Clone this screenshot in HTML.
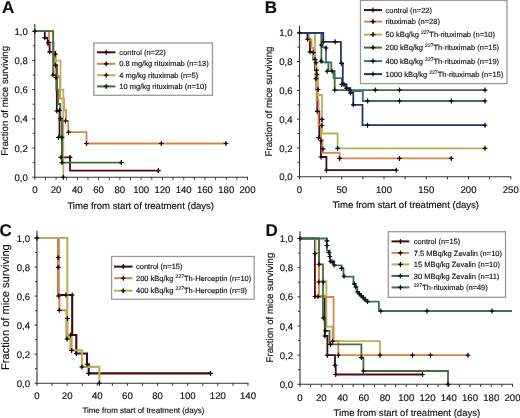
<!DOCTYPE html>
<html><head><meta charset="utf-8"><style>
html,body{margin:0;padding:0;background:#fff;}
body{width:520px;height:418px;overflow:hidden;}
svg{display:block;font-family:"Liberation Sans", sans-serif;will-change:transform;filter:blur(0.3px);}
text{fill:#111;stroke:#111;stroke-width:0.15px;text-rendering:geometricPrecision;}
</style></head><body>
<svg width="520" height="418" viewBox="0 0 520 418">
<rect width="520" height="418" fill="#fff"/>
<line x1="34.8" y1="23.90" x2="34.8" y2="177.80" stroke="#333333" stroke-width="1.1"/>
<line x1="34.20" y1="177.2" x2="248.00" y2="177.2" stroke="#333333" stroke-width="1.1"/>
<line x1="32.30" y1="177.20" x2="34.8" y2="177.20" stroke="#333333" stroke-width="1"/>
<text x="27.80" y="180.80" text-anchor="end" font-size="9.6">0,0</text>
<line x1="32.80" y1="162.60" x2="34.8" y2="162.60" stroke="#333333" stroke-width="1"/>
<line x1="32.30" y1="148.00" x2="34.8" y2="148.00" stroke="#333333" stroke-width="1"/>
<text x="27.80" y="151.60" text-anchor="end" font-size="9.6">0,2</text>
<line x1="32.80" y1="133.40" x2="34.8" y2="133.40" stroke="#333333" stroke-width="1"/>
<line x1="32.30" y1="118.80" x2="34.8" y2="118.80" stroke="#333333" stroke-width="1"/>
<text x="27.80" y="122.40" text-anchor="end" font-size="9.6">0,4</text>
<line x1="32.80" y1="104.20" x2="34.8" y2="104.20" stroke="#333333" stroke-width="1"/>
<line x1="32.30" y1="89.60" x2="34.8" y2="89.60" stroke="#333333" stroke-width="1"/>
<text x="27.80" y="93.20" text-anchor="end" font-size="9.6">0,6</text>
<line x1="32.80" y1="75.00" x2="34.8" y2="75.00" stroke="#333333" stroke-width="1"/>
<line x1="32.30" y1="60.40" x2="34.8" y2="60.40" stroke="#333333" stroke-width="1"/>
<text x="27.80" y="64.00" text-anchor="end" font-size="9.6">0,8</text>
<line x1="32.80" y1="45.80" x2="34.8" y2="45.80" stroke="#333333" stroke-width="1"/>
<line x1="32.30" y1="31.20" x2="34.8" y2="31.20" stroke="#333333" stroke-width="1"/>
<text x="27.80" y="34.80" text-anchor="end" font-size="9.6">1,0</text>
<line x1="34.80" y1="177.2" x2="34.80" y2="179.80" stroke="#333333" stroke-width="1"/>
<text x="34.80" y="193.40" text-anchor="middle" font-size="9.6">0</text>
<line x1="45.43" y1="177.2" x2="45.43" y2="179.80" stroke="#333333" stroke-width="1"/>
<line x1="56.07" y1="177.2" x2="56.07" y2="179.80" stroke="#333333" stroke-width="1"/>
<text x="56.07" y="193.40" text-anchor="middle" font-size="9.6">20</text>
<line x1="66.70" y1="177.2" x2="66.70" y2="179.80" stroke="#333333" stroke-width="1"/>
<line x1="77.34" y1="177.2" x2="77.34" y2="179.80" stroke="#333333" stroke-width="1"/>
<text x="77.34" y="193.40" text-anchor="middle" font-size="9.6">40</text>
<line x1="87.97" y1="177.2" x2="87.97" y2="179.80" stroke="#333333" stroke-width="1"/>
<line x1="98.61" y1="177.2" x2="98.61" y2="179.80" stroke="#333333" stroke-width="1"/>
<text x="98.61" y="193.40" text-anchor="middle" font-size="9.6">60</text>
<line x1="109.24" y1="177.2" x2="109.24" y2="179.80" stroke="#333333" stroke-width="1"/>
<line x1="119.88" y1="177.2" x2="119.88" y2="179.80" stroke="#333333" stroke-width="1"/>
<text x="119.88" y="193.40" text-anchor="middle" font-size="9.6">80</text>
<line x1="130.51" y1="177.2" x2="130.51" y2="179.80" stroke="#333333" stroke-width="1"/>
<line x1="141.15" y1="177.2" x2="141.15" y2="179.80" stroke="#333333" stroke-width="1"/>
<text x="141.15" y="193.40" text-anchor="middle" font-size="9.6">100</text>
<line x1="151.78" y1="177.2" x2="151.78" y2="179.80" stroke="#333333" stroke-width="1"/>
<line x1="162.42" y1="177.2" x2="162.42" y2="179.80" stroke="#333333" stroke-width="1"/>
<text x="162.42" y="193.40" text-anchor="middle" font-size="9.6">120</text>
<line x1="173.06" y1="177.2" x2="173.06" y2="179.80" stroke="#333333" stroke-width="1"/>
<line x1="183.69" y1="177.2" x2="183.69" y2="179.80" stroke="#333333" stroke-width="1"/>
<text x="183.69" y="193.40" text-anchor="middle" font-size="9.6">140</text>
<line x1="194.32" y1="177.2" x2="194.32" y2="179.80" stroke="#333333" stroke-width="1"/>
<line x1="204.96" y1="177.2" x2="204.96" y2="179.80" stroke="#333333" stroke-width="1"/>
<text x="204.96" y="193.40" text-anchor="middle" font-size="9.6">160</text>
<line x1="215.59" y1="177.2" x2="215.59" y2="179.80" stroke="#333333" stroke-width="1"/>
<line x1="226.23" y1="177.2" x2="226.23" y2="179.80" stroke="#333333" stroke-width="1"/>
<text x="226.23" y="193.40" text-anchor="middle" font-size="9.6">180</text>
<line x1="236.86" y1="177.2" x2="236.86" y2="179.80" stroke="#333333" stroke-width="1"/>
<line x1="247.50" y1="177.2" x2="247.50" y2="179.80" stroke="#333333" stroke-width="1"/>
<text x="247.50" y="193.40" text-anchor="middle" font-size="9.6">200</text>
<text x="2" y="12.6" font-size="17" font-weight="bold">A</text>
<text x="67.4" y="209" font-size="9.55">Time from start of treatment (days)</text>
<text transform="translate(8.0,100.8) rotate(-90)" text-anchor="middle" font-size="9.7">Fraction of mice surviving</text>
<path d="M34.80,31.20H44.80V37.80H47.70V44.50H49.60V51.80H55.30V65.00H56.80V111.00H59.50V137.40H62.00V157.30H70.00V170.60H158.30" fill="none" stroke="#4c0812" stroke-width="1.8" stroke-linejoin="miter" stroke-linecap="butt"/>
<path d="M34.80,31.20H49.00V42.40H53.50V53.70H55.50V76.20H60.00V98.60H64.00V109.80H66.00V121.00H68.30V132.20H86.50V143.50H226.00" fill="none" stroke="#d88646" stroke-width="1.8" stroke-linejoin="miter" stroke-linecap="butt"/>
<path d="M34.80,31.20H53.00V60.60H60.50V89.60H63.30V177.20" fill="none" stroke="#b4b25a" stroke-width="1.8" stroke-linejoin="miter" stroke-linecap="butt"/>
<path d="M34.80,31.20H53.20V75.20H56.30V89.60H58.00V104.00H60.30V118.50H62.00V162.60H121.30" fill="none" stroke="#446c3f" stroke-width="1.8" stroke-linejoin="miter" stroke-linecap="butt"/>
<path d="M42.40,37.80H47.20M44.80,35.30V40.30" stroke="#111" stroke-width="1.15" fill="none"/><path d="M43.30,37.80L44.80,36.30L46.30,37.80L44.80,39.30Z" fill="#111"/>
<path d="M46.10,42.60H50.90M48.50,40.10V45.10" stroke="#111" stroke-width="1.15" fill="none"/><path d="M47.00,42.60L48.50,41.10L50.00,42.60L48.50,44.10Z" fill="#111"/>
<path d="M47.20,51.80H52.00M49.60,49.30V54.30" stroke="#111" stroke-width="1.15" fill="none"/><path d="M48.10,51.80L49.60,50.30L51.10,51.80L49.60,53.30Z" fill="#111"/>
<path d="M53.00,54.20H57.80M55.40,51.70V56.70" stroke="#111" stroke-width="1.15" fill="none"/><path d="M53.90,54.20L55.40,52.70L56.90,54.20L55.40,55.70Z" fill="#111"/>
<path d="M53.10,65.20H57.90M55.50,62.70V67.70" stroke="#111" stroke-width="1.15" fill="none"/><path d="M54.00,65.20L55.50,63.70L57.00,65.20L55.50,66.70Z" fill="#111"/>
<path d="M50.60,75.00H55.40M53.00,72.50V77.50" stroke="#111" stroke-width="1.15" fill="none"/><path d="M51.50,75.00L53.00,73.50L54.50,75.00L53.00,76.50Z" fill="#111"/>
<path d="M53.60,77.50H58.40M56.00,75.00V80.00" stroke="#111" stroke-width="1.15" fill="none"/><path d="M54.50,77.50L56.00,76.00L57.50,77.50L56.00,79.00Z" fill="#111"/>
<path d="M54.40,111.00H59.20M56.80,108.50V113.50" stroke="#111" stroke-width="1.15" fill="none"/><path d="M55.30,111.00L56.80,109.50L58.30,111.00L56.80,112.50Z" fill="#111"/>
<path d="M57.10,110.30H61.90M59.50,107.80V112.80" stroke="#111" stroke-width="1.15" fill="none"/><path d="M58.00,110.30L59.50,108.80L61.00,110.30L59.50,111.80Z" fill="#111"/>
<path d="M56.10,137.40H60.90M58.50,134.90V139.90" stroke="#111" stroke-width="1.15" fill="none"/><path d="M57.00,137.40L58.50,135.90L60.00,137.40L58.50,138.90Z" fill="#111"/>
<path d="M59.60,137.40H64.40M62.00,134.90V139.90" stroke="#111" stroke-width="1.15" fill="none"/><path d="M60.50,137.40L62.00,135.90L63.50,137.40L62.00,138.90Z" fill="#111"/>
<path d="M58.60,157.30H63.40M61.00,154.80V159.80" stroke="#111" stroke-width="1.15" fill="none"/><path d="M59.50,157.30L61.00,155.80L62.50,157.30L61.00,158.80Z" fill="#111"/>
<path d="M67.60,157.30H72.40M70.00,154.80V159.80" stroke="#111" stroke-width="1.15" fill="none"/><path d="M68.50,157.30L70.00,155.80L71.50,157.30L70.00,158.80Z" fill="#111"/>
<path d="M155.90,170.60H160.70M158.30,168.10V173.10" stroke="#111" stroke-width="1.15" fill="none"/><path d="M156.80,170.60L158.30,169.10L159.80,170.60L158.30,172.10Z" fill="#111"/>
<path d="M63.10,121.00H67.90M65.50,118.50V123.50" stroke="#111" stroke-width="1.15" fill="none"/><path d="M64.00,121.00L65.50,119.50L67.00,121.00L65.50,122.50Z" fill="#111"/>
<path d="M66.10,132.20H70.90M68.50,129.70V134.70" stroke="#111" stroke-width="1.15" fill="none"/><path d="M67.00,132.20L68.50,130.70L70.00,132.20L68.50,133.70Z" fill="#111"/>
<path d="M84.10,143.50H88.90M86.50,141.00V146.00" stroke="#111" stroke-width="1.15" fill="none"/><path d="M85.00,143.50L86.50,142.00L88.00,143.50L86.50,145.00Z" fill="#111"/>
<path d="M158.90,143.50H163.70M161.30,141.00V146.00" stroke="#111" stroke-width="1.15" fill="none"/><path d="M159.80,143.50L161.30,142.00L162.80,143.50L161.30,145.00Z" fill="#111"/>
<path d="M223.60,143.50H228.40M226.00,141.00V146.00" stroke="#111" stroke-width="1.15" fill="none"/><path d="M224.50,143.50L226.00,142.00L227.50,143.50L226.00,145.00Z" fill="#111"/>
<path d="M58.10,118.50H62.90M60.50,116.00V121.00" stroke="#111" stroke-width="1.15" fill="none"/><path d="M59.00,118.50L60.50,117.00L62.00,118.50L60.50,120.00Z" fill="#111"/>
<path d="M59.60,162.60H64.40M62.00,160.10V165.10" stroke="#111" stroke-width="1.15" fill="none"/><path d="M60.50,162.60L62.00,161.10L63.50,162.60L62.00,164.10Z" fill="#111"/>
<path d="M118.90,162.60H123.70M121.30,160.10V165.10" stroke="#111" stroke-width="1.15" fill="none"/><path d="M119.80,162.60L121.30,161.10L122.80,162.60L121.30,164.10Z" fill="#111"/>
<path d="M60.90,177.20H65.70M63.30,174.70V179.70" stroke="#111" stroke-width="1.15" fill="none"/><path d="M61.80,177.20L63.30,175.70L64.80,177.20L63.30,178.70Z" fill="#111"/>
<path d="M32.40,31.20H37.20M34.80,28.70V33.70" stroke="#111" stroke-width="1.15" fill="none"/><path d="M33.30,31.20L34.80,29.70L36.30,31.20L34.80,32.70Z" fill="#111"/>
<rect x="93.9" y="43.0" width="118.6" height="52.3" fill="#fff" stroke="#999" stroke-width="1.3"/>
<line x1="97" y1="52.30" x2="115.4" y2="52.30" stroke="#4c0812" stroke-width="2"/>
<path d="M103.80,52.30H108.60M106.20,49.80V54.80" stroke="#111" stroke-width="1.15" fill="none"/><path d="M104.70,52.30L106.20,50.80L107.70,52.30L106.20,53.80Z" fill="#111"/>
<text x="119.3" y="54.9" font-size="7.5">control (n=22)</text>
<line x1="97" y1="63.80" x2="115.4" y2="63.80" stroke="#d88646" stroke-width="2"/>
<path d="M103.80,63.80H108.60M106.20,61.30V66.30" stroke="#111" stroke-width="1.15" fill="none"/><path d="M104.70,63.80L106.20,62.30L107.70,63.80L106.20,65.30Z" fill="#111"/>
<text x="119.3" y="66.4" font-size="7.5">0.8 mg/kg rituximab (n=13)</text>
<line x1="97" y1="75.20" x2="115.4" y2="75.20" stroke="#b4b25a" stroke-width="2"/>
<path d="M103.80,75.20H108.60M106.20,72.70V77.70" stroke="#111" stroke-width="1.15" fill="none"/><path d="M104.70,75.20L106.20,73.70L107.70,75.20L106.20,76.70Z" fill="#111"/>
<text x="119.3" y="77.8" font-size="7.5">4 mg/kg rituximab (n=5)</text>
<line x1="97" y1="86.40" x2="115.4" y2="86.40" stroke="#446c3f" stroke-width="2"/>
<path d="M103.80,86.40H108.60M106.20,83.90V88.90" stroke="#111" stroke-width="1.15" fill="none"/><path d="M104.70,86.40L106.20,84.90L107.70,86.40L106.20,87.90Z" fill="#111"/>
<text x="119.3" y="89.0" font-size="7.5">10 mg/kg rituximab (n=10)</text>
<line x1="299.5" y1="25.61" x2="299.5" y2="177.30" stroke="#333333" stroke-width="1.1"/>
<line x1="298.90" y1="176.7" x2="511.25" y2="176.7" stroke="#333333" stroke-width="1.1"/>
<line x1="297.00" y1="176.70" x2="299.5" y2="176.70" stroke="#333333" stroke-width="1"/>
<text x="292.50" y="180.30" text-anchor="end" font-size="9.6">0,0</text>
<line x1="297.50" y1="162.31" x2="299.5" y2="162.31" stroke="#333333" stroke-width="1"/>
<line x1="297.00" y1="147.92" x2="299.5" y2="147.92" stroke="#333333" stroke-width="1"/>
<text x="292.50" y="151.52" text-anchor="end" font-size="9.6">0,2</text>
<line x1="297.50" y1="133.53" x2="299.5" y2="133.53" stroke="#333333" stroke-width="1"/>
<line x1="297.00" y1="119.14" x2="299.5" y2="119.14" stroke="#333333" stroke-width="1"/>
<text x="292.50" y="122.74" text-anchor="end" font-size="9.6">0,4</text>
<line x1="297.50" y1="104.75" x2="299.5" y2="104.75" stroke="#333333" stroke-width="1"/>
<line x1="297.00" y1="90.36" x2="299.5" y2="90.36" stroke="#333333" stroke-width="1"/>
<text x="292.50" y="93.96" text-anchor="end" font-size="9.6">0,6</text>
<line x1="297.50" y1="75.97" x2="299.5" y2="75.97" stroke="#333333" stroke-width="1"/>
<line x1="297.00" y1="61.58" x2="299.5" y2="61.58" stroke="#333333" stroke-width="1"/>
<text x="292.50" y="65.18" text-anchor="end" font-size="9.6">0,8</text>
<line x1="297.50" y1="47.19" x2="299.5" y2="47.19" stroke="#333333" stroke-width="1"/>
<line x1="297.00" y1="32.80" x2="299.5" y2="32.80" stroke="#333333" stroke-width="1"/>
<text x="292.50" y="36.40" text-anchor="end" font-size="9.6">1,0</text>
<line x1="299.50" y1="176.7" x2="299.50" y2="179.30" stroke="#333333" stroke-width="1"/>
<text x="299.50" y="192.90" text-anchor="middle" font-size="9.6">0</text>
<line x1="320.62" y1="176.7" x2="320.62" y2="179.30" stroke="#333333" stroke-width="1"/>
<line x1="341.75" y1="176.7" x2="341.75" y2="179.30" stroke="#333333" stroke-width="1"/>
<text x="341.75" y="192.90" text-anchor="middle" font-size="9.6">50</text>
<line x1="362.88" y1="176.7" x2="362.88" y2="179.30" stroke="#333333" stroke-width="1"/>
<line x1="384.00" y1="176.7" x2="384.00" y2="179.30" stroke="#333333" stroke-width="1"/>
<text x="384.00" y="192.90" text-anchor="middle" font-size="9.6">100</text>
<line x1="405.12" y1="176.7" x2="405.12" y2="179.30" stroke="#333333" stroke-width="1"/>
<line x1="426.25" y1="176.7" x2="426.25" y2="179.30" stroke="#333333" stroke-width="1"/>
<text x="426.25" y="192.90" text-anchor="middle" font-size="9.6">150</text>
<line x1="447.38" y1="176.7" x2="447.38" y2="179.30" stroke="#333333" stroke-width="1"/>
<line x1="468.50" y1="176.7" x2="468.50" y2="179.30" stroke="#333333" stroke-width="1"/>
<text x="468.50" y="192.90" text-anchor="middle" font-size="9.6">200</text>
<line x1="489.62" y1="176.7" x2="489.62" y2="179.30" stroke="#333333" stroke-width="1"/>
<line x1="510.75" y1="176.7" x2="510.75" y2="179.30" stroke="#333333" stroke-width="1"/>
<text x="510.75" y="192.90" text-anchor="middle" font-size="9.6">250</text>
<text x="264.8" y="13.2" font-size="17" font-weight="bold">B</text>
<text x="332.4" y="208.3" font-size="9.55">Time from start of treatment (days)</text>
<text transform="translate(272.4,101.5) rotate(-90)" text-anchor="middle" font-size="9.7">Fraction of mice surviving</text>
<path d="M299.50,32.80H307.50V39.20H310.00V51.80H313.40V59.30H315.00V70.20H316.50V89.50H317.30V111.30H319.30V137.70H321.00V157.00H326.40V170.20H396.30" fill="none" stroke="#4c0812" stroke-width="1.8" stroke-linejoin="miter" stroke-linecap="butt"/>
<path d="M299.50,32.80H309.00V40.00H311.50V48.00H313.50V60.00H315.50V80.00H316.70V100.00H318.50V125.00H321.00V140.00H322.40V152.90H339.60V158.40H451.30" fill="none" stroke="#d88646" stroke-width="1.8" stroke-linejoin="miter" stroke-linecap="butt"/>
<path d="M299.50,32.80H315.00V61.60H316.50V76.00H318.00V95.00H322.00V133.50H337.60V148.30H485.00" fill="none" stroke="#b4b25a" stroke-width="1.8" stroke-linejoin="miter" stroke-linecap="butt"/>
<path d="M299.50,32.80H321.40V62.40H328.40V71.00H333.60V78.10H334.70V90.10H485.00" fill="none" stroke="#446c3f" stroke-width="1.8" stroke-linejoin="miter" stroke-linecap="butt"/>
<path d="M299.50,32.80H321.70V47.10H326.00V62.40H331.30V71.00H334.70V78.10H341.80V84.40H345.60V88.20H349.50V91.10H362.80V101.00H485.00" fill="none" stroke="#3e706a" stroke-width="1.8" stroke-linejoin="miter" stroke-linecap="butt"/>
<path d="M299.50,32.80H323.30V41.80H340.90V63.40H342.80V84.40H346.60V88.20H350.40V93.00H353.30V104.80H362.50V125.20H485.00" fill="none" stroke="#26336e" stroke-width="1.8" stroke-linejoin="miter" stroke-linecap="butt"/>
<path d="M297.10,32.80H301.90M299.50,30.30V35.30" stroke="#111" stroke-width="1.15" fill="none"/><path d="M298.00,32.80L299.50,31.30L301.00,32.80L299.50,34.30Z" fill="#111"/>
<path d="M305.10,39.20H309.90M307.50,36.70V41.70" stroke="#111" stroke-width="1.15" fill="none"/><path d="M306.00,39.20L307.50,37.70L309.00,39.20L307.50,40.70Z" fill="#111"/>
<path d="M307.60,51.80H312.40M310.00,49.30V54.30" stroke="#111" stroke-width="1.15" fill="none"/><path d="M308.50,51.80L310.00,50.30L311.50,51.80L310.00,53.30Z" fill="#111"/>
<path d="M311.00,52.60H315.80M313.40,50.10V55.10" stroke="#111" stroke-width="1.15" fill="none"/><path d="M311.90,52.60L313.40,51.10L314.90,52.60L313.40,54.10Z" fill="#111"/>
<path d="M312.60,59.30H317.40M315.00,56.80V61.80" stroke="#111" stroke-width="1.15" fill="none"/><path d="M313.50,59.30L315.00,57.80L316.50,59.30L315.00,60.80Z" fill="#111"/>
<path d="M313.60,62.70H318.40M316.00,60.20V65.20" stroke="#111" stroke-width="1.15" fill="none"/><path d="M314.50,62.70L316.00,61.20L317.50,62.70L316.00,64.20Z" fill="#111"/>
<path d="M314.10,70.20H318.90M316.50,67.70V72.70" stroke="#111" stroke-width="1.15" fill="none"/><path d="M315.00,70.20L316.50,68.70L318.00,70.20L316.50,71.70Z" fill="#111"/>
<path d="M314.60,74.40H319.40M317.00,71.90V76.90" stroke="#111" stroke-width="1.15" fill="none"/><path d="M315.50,74.40L317.00,72.90L318.50,74.40L317.00,75.90Z" fill="#111"/>
<path d="M313.60,78.60H318.40M316.00,76.10V81.10" stroke="#111" stroke-width="1.15" fill="none"/><path d="M314.50,78.60L316.00,77.10L317.50,78.60L316.00,80.10Z" fill="#111"/>
<path d="M315.60,89.50H320.40M318.00,87.00V92.00" stroke="#111" stroke-width="1.15" fill="none"/><path d="M316.50,89.50L318.00,88.00L319.50,89.50L318.00,91.00Z" fill="#111"/>
<path d="M314.90,111.30H319.70M317.30,108.80V113.80" stroke="#111" stroke-width="1.15" fill="none"/><path d="M315.80,111.30L317.30,109.80L318.80,111.30L317.30,112.80Z" fill="#111"/>
<path d="M316.10,137.70H320.90M318.50,135.20V140.20" stroke="#111" stroke-width="1.15" fill="none"/><path d="M317.00,137.70L318.50,136.20L320.00,137.70L318.50,139.20Z" fill="#111"/>
<path d="M318.60,157.00H323.40M321.00,154.50V159.50" stroke="#111" stroke-width="1.15" fill="none"/><path d="M319.50,157.00L321.00,155.50L322.50,157.00L321.00,158.50Z" fill="#111"/>
<path d="M324.00,170.20H328.80M326.40,167.70V172.70" stroke="#111" stroke-width="1.15" fill="none"/><path d="M324.90,170.20L326.40,168.70L327.90,170.20L326.40,171.70Z" fill="#111"/>
<path d="M393.90,170.20H398.70M396.30,167.70V172.70" stroke="#111" stroke-width="1.15" fill="none"/><path d="M394.80,170.20L396.30,168.70L397.80,170.20L396.30,171.70Z" fill="#111"/>
<path d="M319.60,119.40H324.40M322.00,116.90V121.90" stroke="#111" stroke-width="1.15" fill="none"/><path d="M320.50,119.40L322.00,117.90L323.50,119.40L322.00,120.90Z" fill="#111"/>
<path d="M319.60,125.50H324.40M322.00,123.00V128.00" stroke="#111" stroke-width="1.15" fill="none"/><path d="M320.50,125.50L322.00,124.00L323.50,125.50L322.00,127.00Z" fill="#111"/>
<path d="M335.20,148.30H340.00M337.60,145.80V150.80" stroke="#111" stroke-width="1.15" fill="none"/><path d="M336.10,148.30L337.60,146.80L339.10,148.30L337.60,149.80Z" fill="#111"/>
<path d="M482.60,148.30H487.40M485.00,145.80V150.80" stroke="#111" stroke-width="1.15" fill="none"/><path d="M483.50,148.30L485.00,146.80L486.50,148.30L485.00,149.80Z" fill="#111"/>
<path d="M318.60,140.70H323.40M321.00,138.20V143.20" stroke="#111" stroke-width="1.15" fill="none"/><path d="M319.50,140.70L321.00,139.20L322.50,140.70L321.00,142.20Z" fill="#111"/>
<path d="M320.60,148.90H325.40M323.00,146.40V151.40" stroke="#111" stroke-width="1.15" fill="none"/><path d="M321.50,148.90L323.00,147.40L324.50,148.90L323.00,150.40Z" fill="#111"/>
<path d="M337.20,158.40H342.00M339.60,155.90V160.90" stroke="#111" stroke-width="1.15" fill="none"/><path d="M338.10,158.40L339.60,156.90L341.10,158.40L339.60,159.90Z" fill="#111"/>
<path d="M397.10,158.40H401.90M399.50,155.90V160.90" stroke="#111" stroke-width="1.15" fill="none"/><path d="M398.00,158.40L399.50,156.90L401.00,158.40L399.50,159.90Z" fill="#111"/>
<path d="M448.90,158.40H453.70M451.30,155.90V160.90" stroke="#111" stroke-width="1.15" fill="none"/><path d="M449.80,158.40L451.30,156.90L452.80,158.40L451.30,159.90Z" fill="#111"/>
<path d="M332.30,90.10H337.10M334.70,87.60V92.60" stroke="#111" stroke-width="1.15" fill="none"/><path d="M333.20,90.10L334.70,88.60L336.20,90.10L334.70,91.60Z" fill="#111"/>
<path d="M372.90,90.10H377.70M375.30,87.60V92.60" stroke="#111" stroke-width="1.15" fill="none"/><path d="M373.80,90.10L375.30,88.60L376.80,90.10L375.30,91.60Z" fill="#111"/>
<path d="M397.10,90.10H401.90M399.50,87.60V92.60" stroke="#111" stroke-width="1.15" fill="none"/><path d="M398.00,90.10L399.50,88.60L401.00,90.10L399.50,91.60Z" fill="#111"/>
<path d="M482.60,90.10H487.40M485.00,87.60V92.60" stroke="#111" stroke-width="1.15" fill="none"/><path d="M483.50,90.10L485.00,88.60L486.50,90.10L485.00,91.60Z" fill="#111"/>
<path d="M318.70,61.10H323.50M321.10,58.60V63.60" stroke="#111" stroke-width="1.15" fill="none"/><path d="M319.60,61.10L321.10,59.60L322.60,61.10L321.10,62.60Z" fill="#111"/>
<path d="M324.70,71.20H329.50M327.10,68.70V73.70" stroke="#111" stroke-width="1.15" fill="none"/><path d="M325.60,71.20L327.10,69.70L328.60,71.20L327.10,72.70Z" fill="#111"/>
<path d="M329.70,71.20H334.50M332.10,68.70V73.70" stroke="#111" stroke-width="1.15" fill="none"/><path d="M330.60,71.20L332.10,69.70L333.60,71.20L332.10,72.70Z" fill="#111"/>
<path d="M319.00,45.00H323.80M321.40,42.50V47.50" stroke="#111" stroke-width="1.15" fill="none"/><path d="M319.90,45.00L321.40,43.50L322.90,45.00L321.40,46.50Z" fill="#111"/>
<path d="M365.20,101.00H370.00M367.60,98.50V103.50" stroke="#111" stroke-width="1.15" fill="none"/><path d="M366.10,101.00L367.60,99.50L369.10,101.00L367.60,102.50Z" fill="#111"/>
<path d="M397.10,101.00H401.90M399.50,98.50V103.50" stroke="#111" stroke-width="1.15" fill="none"/><path d="M398.00,101.00L399.50,99.50L401.00,101.00L399.50,102.50Z" fill="#111"/>
<path d="M448.90,101.00H453.70M451.30,98.50V103.50" stroke="#111" stroke-width="1.15" fill="none"/><path d="M449.80,101.00L451.30,99.50L452.80,101.00L451.30,102.50Z" fill="#111"/>
<path d="M482.60,101.00H487.40M485.00,98.50V103.50" stroke="#111" stroke-width="1.15" fill="none"/><path d="M483.50,101.00L485.00,99.50L486.50,101.00L485.00,102.50Z" fill="#111"/>
<path d="M339.40,84.40H344.20M341.80,81.90V86.90" stroke="#111" stroke-width="1.15" fill="none"/><path d="M340.30,84.40L341.80,82.90L343.30,84.40L341.80,85.90Z" fill="#111"/>
<path d="M347.10,90.10H351.90M349.50,87.60V92.60" stroke="#111" stroke-width="1.15" fill="none"/><path d="M348.00,90.10L349.50,88.60L351.00,90.10L349.50,91.60Z" fill="#111"/>
<path d="M323.60,48.00H328.40M326.00,45.50V50.50" stroke="#111" stroke-width="1.15" fill="none"/><path d="M324.50,48.00L326.00,46.50L327.50,48.00L326.00,49.50Z" fill="#111"/>
<path d="M320.90,41.80H325.70M323.30,39.30V44.30" stroke="#111" stroke-width="1.15" fill="none"/><path d="M321.80,41.80L323.30,40.30L324.80,41.80L323.30,43.30Z" fill="#111"/>
<path d="M332.70,41.80H337.50M335.10,39.30V44.30" stroke="#111" stroke-width="1.15" fill="none"/><path d="M333.60,41.80L335.10,40.30L336.60,41.80L335.10,43.30Z" fill="#111"/>
<path d="M339.10,63.40H343.90M341.50,60.90V65.90" stroke="#111" stroke-width="1.15" fill="none"/><path d="M340.00,63.40L341.50,61.90L343.00,63.40L341.50,64.90Z" fill="#111"/>
<path d="M341.60,84.40H346.40M344.00,81.90V86.90" stroke="#111" stroke-width="1.15" fill="none"/><path d="M342.50,84.40L344.00,82.90L345.50,84.40L344.00,85.90Z" fill="#111"/>
<path d="M344.20,88.20H349.00M346.60,85.70V90.70" stroke="#111" stroke-width="1.15" fill="none"/><path d="M345.10,88.20L346.60,86.70L348.10,88.20L346.60,89.70Z" fill="#111"/>
<path d="M348.00,93.00H352.80M350.40,90.50V95.50" stroke="#111" stroke-width="1.15" fill="none"/><path d="M348.90,93.00L350.40,91.50L351.90,93.00L350.40,94.50Z" fill="#111"/>
<path d="M350.90,104.80H355.70M353.30,102.30V107.30" stroke="#111" stroke-width="1.15" fill="none"/><path d="M351.80,104.80L353.30,103.30L354.80,104.80L353.30,106.30Z" fill="#111"/>
<path d="M365.10,125.20H369.90M367.50,122.70V127.70" stroke="#111" stroke-width="1.15" fill="none"/><path d="M366.00,125.20L367.50,123.70L369.00,125.20L367.50,126.70Z" fill="#111"/>
<path d="M482.60,125.20H487.40M485.00,122.70V127.70" stroke="#111" stroke-width="1.15" fill="none"/><path d="M483.50,125.20L485.00,123.70L486.50,125.20L485.00,126.70Z" fill="#111"/>
<rect x="360.5" y="0.4" width="146.5" height="83.2" fill="#fff" stroke="#999" stroke-width="1.3"/>
<line x1="364" y1="10.10" x2="382" y2="10.10" stroke="#4c0812" stroke-width="2"/>
<path d="M370.60,10.10H375.40M373.00,7.60V12.60" stroke="#111" stroke-width="1.15" fill="none"/><path d="M371.50,10.10L373.00,8.60L374.50,10.10L373.00,11.60Z" fill="#111"/>
<text x="385.5" y="12.7" font-size="7.5">control (n=22)</text>
<line x1="364" y1="21.60" x2="382" y2="21.60" stroke="#d88646" stroke-width="2"/>
<path d="M370.60,21.60H375.40M373.00,19.10V24.10" stroke="#111" stroke-width="1.15" fill="none"/><path d="M371.50,21.60L373.00,20.10L374.50,21.60L373.00,23.10Z" fill="#111"/>
<text x="385.5" y="24.2" font-size="7.5">rituximab (n=28)</text>
<line x1="364" y1="34.60" x2="382" y2="34.60" stroke="#b4b25a" stroke-width="2"/>
<path d="M370.60,34.60H375.40M373.00,32.10V37.10" stroke="#111" stroke-width="1.15" fill="none"/><path d="M371.50,34.60L373.00,33.10L374.50,34.60L373.00,36.10Z" fill="#111"/>
<text x="385.5" y="37.2" font-size="7.5">50 kBq/kg <tspan font-size="5" dy="-3.2">227</tspan><tspan dy="3.2">Th-rituximab (n=10)</tspan></text>
<line x1="364" y1="47.60" x2="382" y2="47.60" stroke="#446c3f" stroke-width="2"/>
<path d="M370.60,47.60H375.40M373.00,45.10V50.10" stroke="#111" stroke-width="1.15" fill="none"/><path d="M371.50,47.60L373.00,46.10L374.50,47.60L373.00,49.10Z" fill="#111"/>
<text x="385.5" y="50.2" font-size="7.5">200 kBq/kg <tspan font-size="5" dy="-3.2">227</tspan><tspan dy="3.2">Th-rituximab (n=15)</tspan></text>
<line x1="364" y1="61.10" x2="382" y2="61.10" stroke="#3e706a" stroke-width="2"/>
<path d="M370.60,61.10H375.40M373.00,58.60V63.60" stroke="#111" stroke-width="1.15" fill="none"/><path d="M371.50,61.10L373.00,59.60L374.50,61.10L373.00,62.60Z" fill="#111"/>
<text x="385.5" y="63.7" font-size="7.5">400 kBq/kg <tspan font-size="5" dy="-3.2">227</tspan><tspan dy="3.2">Th-rituximab (n=19)</tspan></text>
<line x1="364" y1="74.10" x2="382" y2="74.10" stroke="#26336e" stroke-width="2"/>
<path d="M370.60,74.10H375.40M373.00,71.60V76.60" stroke="#111" stroke-width="1.15" fill="none"/><path d="M371.50,74.10L373.00,72.60L374.50,74.10L373.00,75.60Z" fill="#111"/>
<text x="385.5" y="76.7" font-size="7.5">1000 kBq/kg <tspan font-size="5" dy="-3.2">227</tspan><tspan dy="3.2">Th-rituximab (n=15)</tspan></text>
<line x1="37" y1="230.74" x2="37" y2="383.80" stroke="#333333" stroke-width="1.1"/>
<line x1="36.40" y1="383.2" x2="248.48" y2="383.2" stroke="#333333" stroke-width="1.1"/>
<line x1="34.50" y1="383.20" x2="37" y2="383.20" stroke="#333333" stroke-width="1"/>
<text x="30.00" y="386.80" text-anchor="end" font-size="9.6">0,0</text>
<line x1="35.00" y1="368.68" x2="37" y2="368.68" stroke="#333333" stroke-width="1"/>
<line x1="34.50" y1="354.16" x2="37" y2="354.16" stroke="#333333" stroke-width="1"/>
<text x="30.00" y="357.76" text-anchor="end" font-size="9.6">0,2</text>
<line x1="35.00" y1="339.64" x2="37" y2="339.64" stroke="#333333" stroke-width="1"/>
<line x1="34.50" y1="325.12" x2="37" y2="325.12" stroke="#333333" stroke-width="1"/>
<text x="30.00" y="328.72" text-anchor="end" font-size="9.6">0,4</text>
<line x1="35.00" y1="310.60" x2="37" y2="310.60" stroke="#333333" stroke-width="1"/>
<line x1="34.50" y1="296.08" x2="37" y2="296.08" stroke="#333333" stroke-width="1"/>
<text x="30.00" y="299.68" text-anchor="end" font-size="9.6">0,6</text>
<line x1="35.00" y1="281.56" x2="37" y2="281.56" stroke="#333333" stroke-width="1"/>
<line x1="34.50" y1="267.04" x2="37" y2="267.04" stroke="#333333" stroke-width="1"/>
<text x="30.00" y="270.64" text-anchor="end" font-size="9.6">0,8</text>
<line x1="35.00" y1="252.52" x2="37" y2="252.52" stroke="#333333" stroke-width="1"/>
<line x1="34.50" y1="238.00" x2="37" y2="238.00" stroke="#333333" stroke-width="1"/>
<text x="30.00" y="241.60" text-anchor="end" font-size="9.6">1,0</text>
<line x1="37.00" y1="383.2" x2="37.00" y2="385.80" stroke="#333333" stroke-width="1"/>
<text x="37.00" y="399.40" text-anchor="middle" font-size="9.6">0</text>
<line x1="52.07" y1="383.2" x2="52.07" y2="385.80" stroke="#333333" stroke-width="1"/>
<line x1="67.14" y1="383.2" x2="67.14" y2="385.80" stroke="#333333" stroke-width="1"/>
<text x="67.14" y="399.40" text-anchor="middle" font-size="9.6">20</text>
<line x1="82.21" y1="383.2" x2="82.21" y2="385.80" stroke="#333333" stroke-width="1"/>
<line x1="97.28" y1="383.2" x2="97.28" y2="385.80" stroke="#333333" stroke-width="1"/>
<text x="97.28" y="399.40" text-anchor="middle" font-size="9.6">40</text>
<line x1="112.35" y1="383.2" x2="112.35" y2="385.80" stroke="#333333" stroke-width="1"/>
<line x1="127.42" y1="383.2" x2="127.42" y2="385.80" stroke="#333333" stroke-width="1"/>
<text x="127.42" y="399.40" text-anchor="middle" font-size="9.6">60</text>
<line x1="142.49" y1="383.2" x2="142.49" y2="385.80" stroke="#333333" stroke-width="1"/>
<line x1="157.56" y1="383.2" x2="157.56" y2="385.80" stroke="#333333" stroke-width="1"/>
<text x="157.56" y="399.40" text-anchor="middle" font-size="9.6">80</text>
<line x1="172.63" y1="383.2" x2="172.63" y2="385.80" stroke="#333333" stroke-width="1"/>
<line x1="187.70" y1="383.2" x2="187.70" y2="385.80" stroke="#333333" stroke-width="1"/>
<text x="187.70" y="399.40" text-anchor="middle" font-size="9.6">100</text>
<line x1="202.77" y1="383.2" x2="202.77" y2="385.80" stroke="#333333" stroke-width="1"/>
<line x1="217.84" y1="383.2" x2="217.84" y2="385.80" stroke="#333333" stroke-width="1"/>
<text x="217.84" y="399.40" text-anchor="middle" font-size="9.6">120</text>
<line x1="232.91" y1="383.2" x2="232.91" y2="385.80" stroke="#333333" stroke-width="1"/>
<line x1="247.98" y1="383.2" x2="247.98" y2="385.80" stroke="#333333" stroke-width="1"/>
<text x="247.98" y="399.40" text-anchor="middle" font-size="9.6">140</text>
<text x="-0.6" y="236" font-size="17" font-weight="bold">C</text>
<text x="82.4" y="413" font-size="7.95">Time from start of treatment (days)</text>
<text transform="translate(9.4,307.1) rotate(-90)" text-anchor="middle" font-size="11.1">Fraction of mice surviving</text>
<path d="M37.00,238.00H58.30V295.00H72.20V335.00H76.30V353.50H87.00V364.20H88.70V373.40H210.50" fill="none" stroke="#4c0812" stroke-width="2.1" stroke-linejoin="miter" stroke-linecap="butt"/>
<path d="M37.00,238.00H58.20V296.00H59.40V310.30H66.50V339.00H70.60V350.40" fill="none" stroke="#d88646" stroke-width="2.1" stroke-linejoin="miter" stroke-linecap="butt"/>
<path d="M37.00,238.00H67.30V318.50H67.50V337.00H71.60V350.40H81.90V366.90H99.40V383.20" fill="none" stroke="#b4b25a" stroke-width="2.1" stroke-linejoin="miter" stroke-linecap="butt"/>
<path d="M34.60,238.00H39.40M37.00,235.50V240.50" stroke="#111" stroke-width="1.15" fill="none"/><path d="M35.50,238.00L37.00,236.50L38.50,238.00L37.00,239.50Z" fill="#111"/>
<path d="M55.80,257.50H60.60M58.20,255.00V260.00" stroke="#111" stroke-width="1.15" fill="none"/><path d="M56.70,257.50L58.20,256.00L59.70,257.50L58.20,259.00Z" fill="#111"/>
<path d="M55.80,267.30H60.60M58.20,264.80V269.80" stroke="#111" stroke-width="1.15" fill="none"/><path d="M56.70,267.30L58.20,265.80L59.70,267.30L58.20,268.80Z" fill="#111"/>
<path d="M56.10,296.00H60.90M58.50,293.50V298.50" stroke="#111" stroke-width="1.15" fill="none"/><path d="M57.00,296.00L58.50,294.50L60.00,296.00L58.50,297.50Z" fill="#111"/>
<path d="M63.40,295.00H68.20M65.80,292.50V297.50" stroke="#111" stroke-width="1.15" fill="none"/><path d="M64.30,295.00L65.80,293.50L67.30,295.00L65.80,296.50Z" fill="#111"/>
<path d="M69.80,295.00H74.60M72.20,292.50V297.50" stroke="#111" stroke-width="1.15" fill="none"/><path d="M70.70,295.00L72.20,293.50L73.70,295.00L72.20,296.50Z" fill="#111"/>
<path d="M56.90,310.30H61.70M59.30,307.80V312.80" stroke="#111" stroke-width="1.15" fill="none"/><path d="M57.80,310.30L59.30,308.80L60.80,310.30L59.30,311.80Z" fill="#111"/>
<path d="M65.10,318.50H69.90M67.50,316.00V321.00" stroke="#111" stroke-width="1.15" fill="none"/><path d="M66.00,318.50L67.50,317.00L69.00,318.50L67.50,320.00Z" fill="#111"/>
<path d="M64.60,339.00H69.40M67.00,336.50V341.50" stroke="#111" stroke-width="1.15" fill="none"/><path d="M65.50,339.00L67.00,337.50L68.50,339.00L67.00,340.50Z" fill="#111"/>
<path d="M69.20,350.40H74.00M71.60,347.90V352.90" stroke="#111" stroke-width="1.15" fill="none"/><path d="M70.10,350.40L71.60,348.90L73.10,350.40L71.60,351.90Z" fill="#111"/>
<path d="M73.90,353.50H78.70M76.30,351.00V356.00" stroke="#111" stroke-width="1.15" fill="none"/><path d="M74.80,353.50L76.30,352.00L77.80,353.50L76.30,355.00Z" fill="#111"/>
<path d="M79.50,366.90H84.30M81.90,364.40V369.40" stroke="#111" stroke-width="1.15" fill="none"/><path d="M80.40,366.90L81.90,365.40L83.40,366.90L81.90,368.40Z" fill="#111"/>
<path d="M84.60,364.20H89.40M87.00,361.70V366.70" stroke="#111" stroke-width="1.15" fill="none"/><path d="M85.50,364.20L87.00,362.70L88.50,364.20L87.00,365.70Z" fill="#111"/>
<path d="M86.30,373.40H91.10M88.70,370.90V375.90" stroke="#111" stroke-width="1.15" fill="none"/><path d="M87.20,373.40L88.70,371.90L90.20,373.40L88.70,374.90Z" fill="#111"/>
<path d="M97.00,383.20H101.80M99.40,380.70V385.70" stroke="#111" stroke-width="1.15" fill="none"/><path d="M97.90,383.20L99.40,381.70L100.90,383.20L99.40,384.70Z" fill="#111"/>
<path d="M208.10,373.40H212.90M210.50,370.90V375.90" stroke="#111" stroke-width="1.15" fill="none"/><path d="M209.00,373.40L210.50,371.90L212.00,373.40L210.50,374.90Z" fill="#111"/>
<path d="M68.20,335.00H73.00M70.60,332.50V337.50" stroke="#111" stroke-width="1.15" fill="none"/><path d="M69.10,335.00L70.60,333.50L72.10,335.00L70.60,336.50Z" fill="#111"/>
<rect x="111.6" y="256.5" width="142.6" height="42.7" fill="#fff" stroke="#999" stroke-width="1.3"/>
<line x1="114" y1="266.60" x2="132.5" y2="266.60" stroke="#4c0812" stroke-width="2"/>
<path d="M120.85,266.60H125.65M123.25,264.10V269.10" stroke="#111" stroke-width="1.15" fill="none"/><path d="M121.75,266.60L123.25,265.10L124.75,266.60L123.25,268.10Z" fill="#111"/>
<text x="136" y="269.2" font-size="7.5">control (n=15)</text>
<line x1="114" y1="278.20" x2="132.5" y2="278.20" stroke="#d88646" stroke-width="2"/>
<path d="M120.85,278.20H125.65M123.25,275.70V280.70" stroke="#111" stroke-width="1.15" fill="none"/><path d="M121.75,278.20L123.25,276.70L124.75,278.20L123.25,279.70Z" fill="#111"/>
<text x="136" y="280.8" font-size="7.5">200 kBq/kg <tspan font-size="5" dy="-3.2">227</tspan><tspan dy="3.2">Th-Herceptin (n=10)</tspan></text>
<line x1="114" y1="290.70" x2="132.5" y2="290.70" stroke="#b4b25a" stroke-width="2"/>
<path d="M120.85,290.70H125.65M123.25,288.20V293.20" stroke="#111" stroke-width="1.15" fill="none"/><path d="M121.75,290.70L123.25,289.20L124.75,290.70L123.25,292.20Z" fill="#111"/>
<text x="136" y="293.3" font-size="7.5">400 kBq/kg <tspan font-size="5" dy="-3.2">227</tspan><tspan dy="3.2">Th-Herceptin (n=9)</tspan></text>
<line x1="300" y1="231.21" x2="300" y2="384.90" stroke="#333333" stroke-width="1.1"/>
<line x1="299.40" y1="384.3" x2="513.00" y2="384.3" stroke="#333333" stroke-width="1.1"/>
<line x1="297.50" y1="384.30" x2="300" y2="384.30" stroke="#333333" stroke-width="1"/>
<text x="293.00" y="387.90" text-anchor="end" font-size="9.6">0,0</text>
<line x1="298.00" y1="369.72" x2="300" y2="369.72" stroke="#333333" stroke-width="1"/>
<line x1="297.50" y1="355.14" x2="300" y2="355.14" stroke="#333333" stroke-width="1"/>
<text x="293.00" y="358.74" text-anchor="end" font-size="9.6">0,2</text>
<line x1="298.00" y1="340.56" x2="300" y2="340.56" stroke="#333333" stroke-width="1"/>
<line x1="297.50" y1="325.98" x2="300" y2="325.98" stroke="#333333" stroke-width="1"/>
<text x="293.00" y="329.58" text-anchor="end" font-size="9.6">0,4</text>
<line x1="298.00" y1="311.40" x2="300" y2="311.40" stroke="#333333" stroke-width="1"/>
<line x1="297.50" y1="296.82" x2="300" y2="296.82" stroke="#333333" stroke-width="1"/>
<text x="293.00" y="300.42" text-anchor="end" font-size="9.6">0,6</text>
<line x1="298.00" y1="282.24" x2="300" y2="282.24" stroke="#333333" stroke-width="1"/>
<line x1="297.50" y1="267.66" x2="300" y2="267.66" stroke="#333333" stroke-width="1"/>
<text x="293.00" y="271.26" text-anchor="end" font-size="9.6">0,8</text>
<line x1="298.00" y1="253.08" x2="300" y2="253.08" stroke="#333333" stroke-width="1"/>
<line x1="297.50" y1="238.50" x2="300" y2="238.50" stroke="#333333" stroke-width="1"/>
<text x="293.00" y="242.10" text-anchor="end" font-size="9.6">1,0</text>
<line x1="300.00" y1="384.3" x2="300.00" y2="386.90" stroke="#333333" stroke-width="1"/>
<text x="300.00" y="400.50" text-anchor="middle" font-size="9.6">0</text>
<line x1="310.62" y1="384.3" x2="310.62" y2="386.90" stroke="#333333" stroke-width="1"/>
<line x1="321.25" y1="384.3" x2="321.25" y2="386.90" stroke="#333333" stroke-width="1"/>
<text x="321.25" y="400.50" text-anchor="middle" font-size="9.6">20</text>
<line x1="331.88" y1="384.3" x2="331.88" y2="386.90" stroke="#333333" stroke-width="1"/>
<line x1="342.50" y1="384.3" x2="342.50" y2="386.90" stroke="#333333" stroke-width="1"/>
<text x="342.50" y="400.50" text-anchor="middle" font-size="9.6">40</text>
<line x1="353.12" y1="384.3" x2="353.12" y2="386.90" stroke="#333333" stroke-width="1"/>
<line x1="363.75" y1="384.3" x2="363.75" y2="386.90" stroke="#333333" stroke-width="1"/>
<text x="363.75" y="400.50" text-anchor="middle" font-size="9.6">60</text>
<line x1="374.38" y1="384.3" x2="374.38" y2="386.90" stroke="#333333" stroke-width="1"/>
<line x1="385.00" y1="384.3" x2="385.00" y2="386.90" stroke="#333333" stroke-width="1"/>
<text x="385.00" y="400.50" text-anchor="middle" font-size="9.6">80</text>
<line x1="395.62" y1="384.3" x2="395.62" y2="386.90" stroke="#333333" stroke-width="1"/>
<line x1="406.25" y1="384.3" x2="406.25" y2="386.90" stroke="#333333" stroke-width="1"/>
<text x="406.25" y="400.50" text-anchor="middle" font-size="9.6">100</text>
<line x1="416.88" y1="384.3" x2="416.88" y2="386.90" stroke="#333333" stroke-width="1"/>
<line x1="427.50" y1="384.3" x2="427.50" y2="386.90" stroke="#333333" stroke-width="1"/>
<text x="427.50" y="400.50" text-anchor="middle" font-size="9.6">120</text>
<line x1="438.12" y1="384.3" x2="438.12" y2="386.90" stroke="#333333" stroke-width="1"/>
<line x1="448.75" y1="384.3" x2="448.75" y2="386.90" stroke="#333333" stroke-width="1"/>
<text x="448.75" y="400.50" text-anchor="middle" font-size="9.6">140</text>
<line x1="459.38" y1="384.3" x2="459.38" y2="386.90" stroke="#333333" stroke-width="1"/>
<line x1="470.00" y1="384.3" x2="470.00" y2="386.90" stroke="#333333" stroke-width="1"/>
<text x="470.00" y="400.50" text-anchor="middle" font-size="9.6">160</text>
<line x1="480.62" y1="384.3" x2="480.62" y2="386.90" stroke="#333333" stroke-width="1"/>
<line x1="491.25" y1="384.3" x2="491.25" y2="386.90" stroke="#333333" stroke-width="1"/>
<text x="491.25" y="400.50" text-anchor="middle" font-size="9.6">180</text>
<line x1="501.88" y1="384.3" x2="501.88" y2="386.90" stroke="#333333" stroke-width="1"/>
<line x1="512.50" y1="384.3" x2="512.50" y2="386.90" stroke="#333333" stroke-width="1"/>
<text x="512.50" y="400.50" text-anchor="middle" font-size="9.6">200</text>
<text x="265.6" y="235.6" font-size="17" font-weight="bold">D</text>
<text x="333.6" y="415.6" font-size="9.55">Time from start of treatment (days)</text>
<text transform="translate(273.0,307.6) rotate(-90)" text-anchor="middle" font-size="9.7">Fraction of mice surviving</text>
<path d="M300.00,238.50H314.90V296.50H324.80V336.00H327.40V355.20H335.00V365.40H335.70V374.50H422.50" fill="none" stroke="#4c0812" stroke-width="1.8" stroke-linejoin="miter" stroke-linecap="butt"/>
<path d="M300.00,238.50H315.60V252.80H319.00V281.20H326.40V326.70H332.60V341.20H380.00V355.20H430.50" fill="none" stroke="#b4b25a" stroke-width="1.8" stroke-linejoin="miter" stroke-linecap="butt"/>
<path d="M300.00,238.50H319.00V297.00H333.60V341.00H338.30V355.20H468.00" fill="none" stroke="#d88646" stroke-width="1.8" stroke-linejoin="miter" stroke-linecap="butt"/>
<path d="M300.00,238.50H319.00V264.30H323.00V318.00H325.40V330.90H329.50V344.40H361.40V357.60H363.40V371.00H448.00V384.30" fill="none" stroke="#446c3f" stroke-width="1.8" stroke-linejoin="miter" stroke-linecap="butt"/>
<path d="M300.00,238.50H326.90V250.70H329.80V261.50H334.20V265.40H341.60V268.30H343.50V276.70H353.40V284.00H355.70V287.00H357.30V291.80H359.30V293.80H361.20V295.80H363.20V297.70H365.10V299.70H367.50V301.60H378.90V311.00H512.00" fill="none" stroke="#3e706a" stroke-width="1.8" stroke-linejoin="miter" stroke-linecap="butt"/>
<path d="M297.60,238.50H302.40M300.00,236.00V241.00" stroke="#111" stroke-width="1.15" fill="none"/><path d="M298.50,238.50L300.00,237.00L301.50,238.50L300.00,240.00Z" fill="#111"/>
<path d="M324.50,240.90H329.30M326.90,238.40V243.40" stroke="#111" stroke-width="1.15" fill="none"/><path d="M325.40,240.90L326.90,239.40L328.40,240.90L326.90,242.40Z" fill="#111"/>
<path d="M324.50,245.50H329.30M326.90,243.00V248.00" stroke="#111" stroke-width="1.15" fill="none"/><path d="M325.40,245.50L326.90,244.00L328.40,245.50L326.90,247.00Z" fill="#111"/>
<path d="M326.50,252.60H331.30M328.90,250.10V255.10" stroke="#111" stroke-width="1.15" fill="none"/><path d="M327.40,252.60L328.90,251.10L330.40,252.60L328.90,254.10Z" fill="#111"/>
<path d="M327.40,256.50H332.20M329.80,254.00V259.00" stroke="#111" stroke-width="1.15" fill="none"/><path d="M328.30,256.50L329.80,255.00L331.30,256.50L329.80,258.00Z" fill="#111"/>
<path d="M328.40,261.50H333.20M330.80,259.00V264.00" stroke="#111" stroke-width="1.15" fill="none"/><path d="M329.30,261.50L330.80,260.00L332.30,261.50L330.80,263.00Z" fill="#111"/>
<path d="M330.40,262.00H335.20M332.80,259.50V264.50" stroke="#111" stroke-width="1.15" fill="none"/><path d="M331.30,262.00L332.80,260.50L334.30,262.00L332.80,263.50Z" fill="#111"/>
<path d="M331.80,265.00H336.60M334.20,262.50V267.50" stroke="#111" stroke-width="1.15" fill="none"/><path d="M332.70,265.00L334.20,263.50L335.70,265.00L334.20,266.50Z" fill="#111"/>
<path d="M339.20,268.30H344.00M341.60,265.80V270.80" stroke="#111" stroke-width="1.15" fill="none"/><path d="M340.10,268.30L341.60,266.80L343.10,268.30L341.60,269.80Z" fill="#111"/>
<path d="M341.60,276.20H346.40M344.00,273.70V278.70" stroke="#111" stroke-width="1.15" fill="none"/><path d="M342.50,276.20L344.00,274.70L345.50,276.20L344.00,277.70Z" fill="#111"/>
<path d="M352.00,284.00H356.80M354.40,281.50V286.50" stroke="#111" stroke-width="1.15" fill="none"/><path d="M352.90,284.00L354.40,282.50L355.90,284.00L354.40,285.50Z" fill="#111"/>
<path d="M353.30,287.00H358.10M355.70,284.50V289.50" stroke="#111" stroke-width="1.15" fill="none"/><path d="M354.20,287.00L355.70,285.50L357.20,287.00L355.70,288.50Z" fill="#111"/>
<path d="M354.90,291.80H359.70M357.30,289.30V294.30" stroke="#111" stroke-width="1.15" fill="none"/><path d="M355.80,291.80L357.30,290.30L358.80,291.80L357.30,293.30Z" fill="#111"/>
<path d="M356.90,293.80H361.70M359.30,291.30V296.30" stroke="#111" stroke-width="1.15" fill="none"/><path d="M357.80,293.80L359.30,292.30L360.80,293.80L359.30,295.30Z" fill="#111"/>
<path d="M358.80,295.80H363.60M361.20,293.30V298.30" stroke="#111" stroke-width="1.15" fill="none"/><path d="M359.70,295.80L361.20,294.30L362.70,295.80L361.20,297.30Z" fill="#111"/>
<path d="M360.80,297.70H365.60M363.20,295.20V300.20" stroke="#111" stroke-width="1.15" fill="none"/><path d="M361.70,297.70L363.20,296.20L364.70,297.70L363.20,299.20Z" fill="#111"/>
<path d="M362.70,299.70H367.50M365.10,297.20V302.20" stroke="#111" stroke-width="1.15" fill="none"/><path d="M363.60,299.70L365.10,298.20L366.60,299.70L365.10,301.20Z" fill="#111"/>
<path d="M365.10,301.60H369.90M367.50,299.10V304.10" stroke="#111" stroke-width="1.15" fill="none"/><path d="M366.00,301.60L367.50,300.10L369.00,301.60L367.50,303.10Z" fill="#111"/>
<path d="M378.40,311.00H383.20M380.80,308.50V313.50" stroke="#111" stroke-width="1.15" fill="none"/><path d="M379.30,311.00L380.80,309.50L382.30,311.00L380.80,312.50Z" fill="#111"/>
<path d="M424.60,311.00H429.40M427.00,308.50V313.50" stroke="#111" stroke-width="1.15" fill="none"/><path d="M425.50,311.00L427.00,309.50L428.50,311.00L427.00,312.50Z" fill="#111"/>
<path d="M489.60,311.00H494.40M492.00,308.50V313.50" stroke="#111" stroke-width="1.15" fill="none"/><path d="M490.50,311.00L492.00,309.50L493.50,311.00L492.00,312.50Z" fill="#111"/>
<path d="M312.50,253.60H317.30M314.90,251.10V256.10" stroke="#111" stroke-width="1.15" fill="none"/><path d="M313.40,253.60L314.90,252.10L316.40,253.60L314.90,255.10Z" fill="#111"/>
<path d="M312.60,296.50H317.40M315.00,294.00V299.00" stroke="#111" stroke-width="1.15" fill="none"/><path d="M313.50,296.50L315.00,295.00L316.50,296.50L315.00,298.00Z" fill="#111"/>
<path d="M315.60,296.50H320.40M318.00,294.00V299.00" stroke="#111" stroke-width="1.15" fill="none"/><path d="M316.50,296.50L318.00,295.00L319.50,296.50L318.00,298.00Z" fill="#111"/>
<path d="M316.60,264.30H321.40M319.00,261.80V266.80" stroke="#111" stroke-width="1.15" fill="none"/><path d="M317.50,264.30L319.00,262.80L320.50,264.30L319.00,265.80Z" fill="#111"/>
<path d="M316.30,282.00H321.10M318.70,279.50V284.50" stroke="#111" stroke-width="1.15" fill="none"/><path d="M317.20,282.00L318.70,280.50L320.20,282.00L318.70,283.50Z" fill="#111"/>
<path d="M320.90,282.00H325.70M323.30,279.50V284.50" stroke="#111" stroke-width="1.15" fill="none"/><path d="M321.80,282.00L323.30,280.50L324.80,282.00L323.30,283.50Z" fill="#111"/>
<path d="M320.90,318.00H325.70M323.30,315.50V320.50" stroke="#111" stroke-width="1.15" fill="none"/><path d="M321.80,318.00L323.30,316.50L324.80,318.00L323.30,319.50Z" fill="#111"/>
<path d="M323.10,331.00H327.90M325.50,328.50V333.50" stroke="#111" stroke-width="1.15" fill="none"/><path d="M324.00,331.00L325.50,329.50L327.00,331.00L325.50,332.50Z" fill="#111"/>
<path d="M328.10,344.40H332.90M330.50,341.90V346.90" stroke="#111" stroke-width="1.15" fill="none"/><path d="M329.00,344.40L330.50,342.90L332.00,344.40L330.50,345.90Z" fill="#111"/>
<path d="M359.00,357.60H363.80M361.40,355.10V360.10" stroke="#111" stroke-width="1.15" fill="none"/><path d="M359.90,357.60L361.40,356.10L362.90,357.60L361.40,359.10Z" fill="#111"/>
<path d="M361.00,371.00H365.80M363.40,368.50V373.50" stroke="#111" stroke-width="1.15" fill="none"/><path d="M361.90,371.00L363.40,369.50L364.90,371.00L363.40,372.50Z" fill="#111"/>
<path d="M445.60,384.30H450.40M448.00,381.80V386.80" stroke="#111" stroke-width="1.15" fill="none"/><path d="M446.50,384.30L448.00,382.80L449.50,384.30L448.00,385.80Z" fill="#111"/>
<path d="M322.40,336.00H327.20M324.80,333.50V338.50" stroke="#111" stroke-width="1.15" fill="none"/><path d="M323.30,336.00L324.80,334.50L326.30,336.00L324.80,337.50Z" fill="#111"/>
<path d="M325.00,355.20H329.80M327.40,352.70V357.70" stroke="#111" stroke-width="1.15" fill="none"/><path d="M325.90,355.20L327.40,353.70L328.90,355.20L327.40,356.70Z" fill="#111"/>
<path d="M332.60,365.40H337.40M335.00,362.90V367.90" stroke="#111" stroke-width="1.15" fill="none"/><path d="M333.50,365.40L335.00,363.90L336.50,365.40L335.00,366.90Z" fill="#111"/>
<path d="M333.30,374.50H338.10M335.70,372.00V377.00" stroke="#111" stroke-width="1.15" fill="none"/><path d="M334.20,374.50L335.70,373.00L337.20,374.50L335.70,376.00Z" fill="#111"/>
<path d="M420.10,374.50H424.90M422.50,372.00V377.00" stroke="#111" stroke-width="1.15" fill="none"/><path d="M421.00,374.50L422.50,373.00L424.00,374.50L422.50,376.00Z" fill="#111"/>
<path d="M335.90,355.20H340.70M338.30,352.70V357.70" stroke="#111" stroke-width="1.15" fill="none"/><path d="M336.80,355.20L338.30,353.70L339.80,355.20L338.30,356.70Z" fill="#111"/>
<path d="M377.60,355.20H382.40M380.00,352.70V357.70" stroke="#111" stroke-width="1.15" fill="none"/><path d="M378.50,355.20L380.00,353.70L381.50,355.20L380.00,356.70Z" fill="#111"/>
<path d="M410.10,355.20H414.90M412.50,352.70V357.70" stroke="#111" stroke-width="1.15" fill="none"/><path d="M411.00,355.20L412.50,353.70L414.00,355.20L412.50,356.70Z" fill="#111"/>
<path d="M428.10,355.20H432.90M430.50,352.70V357.70" stroke="#111" stroke-width="1.15" fill="none"/><path d="M429.00,355.20L430.50,353.70L432.00,355.20L430.50,356.70Z" fill="#111"/>
<path d="M465.60,355.20H470.40M468.00,352.70V357.70" stroke="#111" stroke-width="1.15" fill="none"/><path d="M466.50,355.20L468.00,353.70L469.50,355.20L468.00,356.70Z" fill="#111"/>
<path d="M330.20,341.20H335.00M332.60,338.70V343.70" stroke="#111" stroke-width="1.15" fill="none"/><path d="M331.10,341.20L332.60,339.70L334.10,341.20L332.60,342.70Z" fill="#111"/>
<rect x="388.3" y="231.7" width="117.2" height="65.6" fill="#fff" stroke="#999" stroke-width="1.3"/>
<line x1="391.5" y1="241.40" x2="409.3" y2="241.40" stroke="#4c0812" stroke-width="2"/>
<path d="M398.00,241.40H402.80M400.40,238.90V243.90" stroke="#111" stroke-width="1.15" fill="none"/><path d="M398.90,241.40L400.40,239.90L401.90,241.40L400.40,242.90Z" fill="#111"/>
<text x="413.8" y="244.0" font-size="7.5">control (n=15)</text>
<line x1="391.5" y1="252.90" x2="409.3" y2="252.90" stroke="#d88646" stroke-width="2"/>
<path d="M398.00,252.90H402.80M400.40,250.40V255.40" stroke="#111" stroke-width="1.15" fill="none"/><path d="M398.90,252.90L400.40,251.40L401.90,252.90L400.40,254.40Z" fill="#111"/>
<text x="413.8" y="255.5" font-size="7.5">7.5 MBq/kg Zevalin (n=10)</text>
<line x1="391.5" y1="264.40" x2="409.3" y2="264.40" stroke="#b4b25a" stroke-width="2"/>
<path d="M398.00,264.40H402.80M400.40,261.90V266.90" stroke="#111" stroke-width="1.15" fill="none"/><path d="M398.90,264.40L400.40,262.90L401.90,264.40L400.40,265.90Z" fill="#111"/>
<text x="413.8" y="267.0" font-size="7.5">15 MBq/kg Zevalin (n=10)</text>
<line x1="391.5" y1="275.90" x2="409.3" y2="275.90" stroke="#446c3f" stroke-width="2"/>
<path d="M398.00,275.90H402.80M400.40,273.40V278.40" stroke="#111" stroke-width="1.15" fill="none"/><path d="M398.90,275.90L400.40,274.40L401.90,275.90L400.40,277.40Z" fill="#111"/>
<text x="413.8" y="278.5" font-size="7.5">30 MBq/kg Zevalin (n=11)</text>
<line x1="391.5" y1="287.40" x2="409.3" y2="287.40" stroke="#3e706a" stroke-width="2"/>
<path d="M398.00,287.40H402.80M400.40,284.90V289.90" stroke="#111" stroke-width="1.15" fill="none"/><path d="M398.90,287.40L400.40,285.90L401.90,287.40L400.40,288.90Z" fill="#111"/>
<text x="413.8" y="290.0" font-size="7.5"><tspan font-size="5" dy="-3.2">227</tspan><tspan dy="3.2">Th-rituximab (n=49)</tspan></text>
</svg>
</body></html>
